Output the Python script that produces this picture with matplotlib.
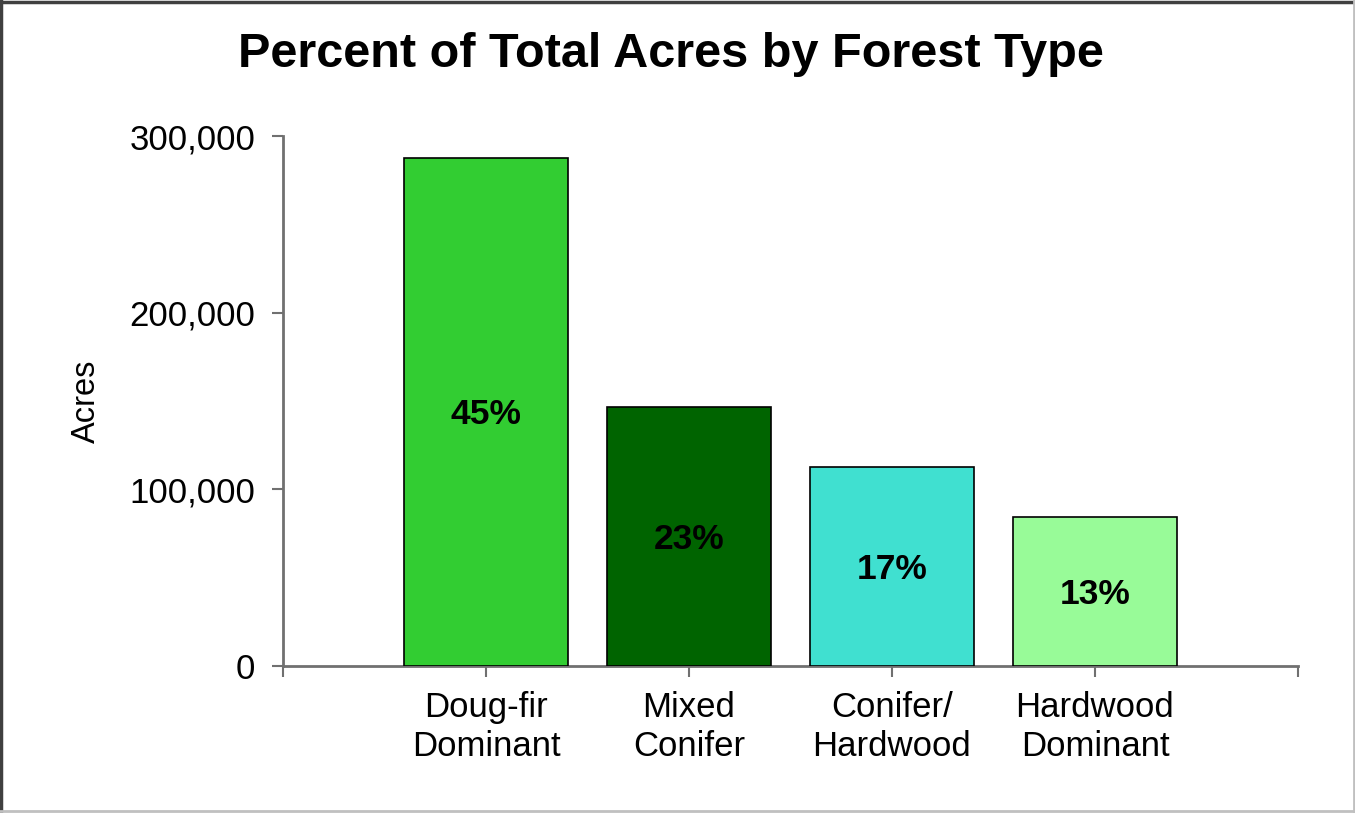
import matplotlib
matplotlib.use("Agg")
import matplotlib.pyplot as plt
from matplotlib.lines import Line2D
from matplotlib.ticker import FuncFormatter

categories = ["Doug-fir\nDominant", "Mixed\nConifer", "Conifer/\nHardwood", "Hardwood\nDominant"]
acres = [287500, 146500, 112500, 84300]
percent_labels = ["45%", "23%", "17%", "13%"]
colors = ["#32CD32", "#006400", "#40E0D0", "#98FB98"]

plt.rcParams['font.family'] = ['Liberation Sans', 'DejaVu Sans']

fig = plt.figure(figsize=(13.55, 8.13), dpi=100)
ax = fig.add_axes([283/1355, 1-666/813, (1298-283)/1355, (666-136)/813])

positions = [1, 2, 3, 4]
ax.bar(positions, acres, width=0.81, color=colors, edgecolor="black", linewidth=1.2, zorder=3)
for x, v, lab in zip(positions, acres, percent_labels):
    ax.text(x, v/2 - 1500, lab, ha="center", va="center", fontsize=25.5, fontweight="bold", color="black", zorder=4)

ax.set_xlim(0, 5)
ax.set_ylim(0, 300000)
ax.set_yticks([0, 100000, 200000, 300000])
ax.yaxis.set_major_formatter(FuncFormatter(lambda v, p: f"{int(v):,}"))
ax.set_xticks([0] + positions + [5])
ax.set_xticklabels([""] + categories + [""], linespacing=1.24)
ax.tick_params(axis="x", length=8, width=1.5, color="#707070", direction="out", pad=10, labelsize=25)
ax.tick_params(axis="y", length=8, width=1.5, color="#707070", labelsize=25, pad=12)

for s in ["top", "right"]:
    ax.spines[s].set_visible(False)
for s in ["left", "bottom"]:
    ax.spines[s].set_color("#707070")
    ax.spines[s].set_linewidth(2)

ax.set_ylabel("Acres", fontsize=23.5, labelpad=20)
fig.text(0.495, 0.933, "Percent of Total Acres by Forest Type", ha="center", va="center",
         fontsize=35, fontweight="bold")

# figure frame: dark top/left, light bottom/right
fig.add_artist(Line2D([0, 1], [0.998, 0.998], transform=fig.transFigure, color="#404040", linewidth=2.5))
fig.add_artist(Line2D([0.001, 0.001], [0, 1], transform=fig.transFigure, color="#404040", linewidth=2.5))
fig.add_artist(Line2D([0, 1], [0.002, 0.002], transform=fig.transFigure, color="#c0c0c0", linewidth=2))
fig.add_artist(Line2D([0.999, 0.999], [0, 1], transform=fig.transFigure, color="#c0c0c0", linewidth=2))

fig.savefig("out.png", dpi=100)
